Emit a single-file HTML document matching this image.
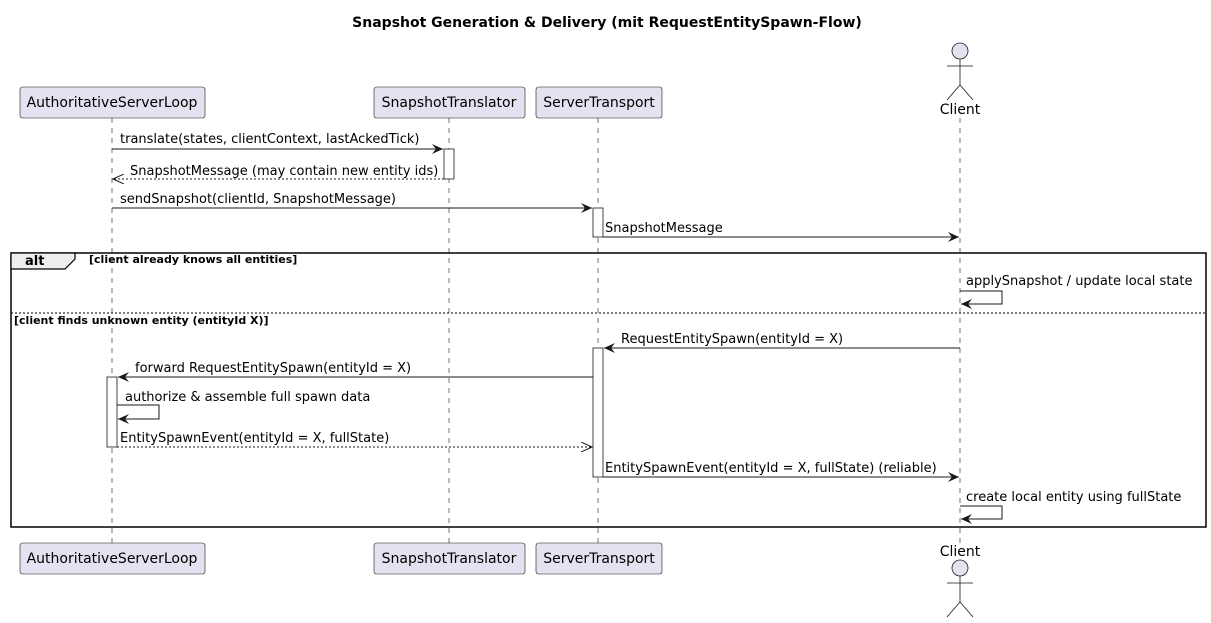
<!DOCTYPE html>
<html><head><meta charset="utf-8"><style>
html,body{margin:0;padding:0;background:#fff;}
svg{display:block;font-family:"DejaVu Sans","Liberation Sans",sans-serif;}
</style></head><body>
<svg width="1211" height="623" viewBox="0 0 1211 623" xmlns="http://www.w3.org/2000/svg">
<defs>
<marker id="a" markerWidth="12" markerHeight="10" refX="11" refY="5" orient="auto" markerUnits="userSpaceOnUse"><path d="M0,0 L11,5 L0,10 L4,5 Z" fill="#181818"/></marker>
<marker id="o" markerWidth="12" markerHeight="10" refX="11" refY="5" orient="auto" markerUnits="userSpaceOnUse"><path d="M0,0 L11,5 L0,10" fill="none" stroke="#181818" stroke-width="1"/></marker>
</defs>
<text x="607" y="27" text-anchor="middle" font-size="14" font-weight="bold">Snapshot Generation &amp; Delivery (mit RequestEntitySpawn-Flow)</text>
<g stroke="#181818" stroke-width="0.6" stroke-dasharray="5,5">
<line x1="112" y1="118" x2="112" y2="543"/>
<line x1="449" y1="118" x2="449" y2="543"/>
<line x1="598" y1="118" x2="598" y2="543"/>
<line x1="960" y1="118" x2="960" y2="543"/>
</g>
<g fill="#E2E2F0" stroke="#181818" stroke-width="0.6">
<rect x="20" y="87" width="185" height="31" rx="2.5"/>
<rect x="374" y="87" width="151" height="31" rx="2.5"/>
<rect x="536" y="87" width="126" height="31" rx="2.5"/>
<rect x="20" y="543" width="185" height="31" rx="2.5"/>
<rect x="374" y="543" width="151" height="31" rx="2.5"/>
<rect x="536" y="543" width="126" height="31" rx="2.5"/>
</g>
<g font-size="14" fill="#000" text-anchor="middle">
<text x="112" y="107">AuthoritativeServerLoop</text>
<text x="449" y="107">SnapshotTranslator</text>
<text x="599" y="107">ServerTransport</text>
<text x="112" y="563">AuthoritativeServerLoop</text>
<text x="449" y="563">SnapshotTranslator</text>
<text x="599" y="563">ServerTransport</text>
<text x="960" y="114">Client</text>
<text x="960" y="556">Client</text>
</g>
<g stroke="#181818" stroke-width="0.8" fill="none">
<circle cx="960" cy="51" r="8" fill="#E2E2F0"/>
<path d="M960,59 V85 M947,66 H973 M947,100 L960,85 L973,100"/>
<circle cx="960" cy="568" r="8" fill="#E2E2F0"/>
<path d="M960,576 V602 M947,583 H973 M947,617 L960,602 L973,617"/>
</g>
<g fill="#fff" stroke="#181818" stroke-width="0.8">
<rect x="444" y="149" width="10" height="30"/>
<rect x="593" y="208" width="10" height="29"/>
<rect x="593" y="348" width="10" height="129"/>
<rect x="107" y="377" width="10" height="70"/>
</g>
<rect x="11" y="253" width="1195" height="274" fill="none" stroke="#000" stroke-width="1.5"/>
<path d="M11,253 H75 V259 L65,269 H11 Z" fill="#EEEEEE" stroke="#000" stroke-width="1.2"/>
<line x1="11" y1="313" x2="1206" y2="313" stroke="#000" stroke-width="1" stroke-dasharray="2,2"/>
<g font-size="11" font-weight="bold">
<text x="25" y="265" font-size="13">alt</text>
<text x="89" y="263">[client already knows all entities]</text>
<text x="14" y="324">[client finds unknown entity (entityId X)]</text>
</g>
<g stroke="#181818" stroke-width="1" fill="none">
<line x1="112" y1="149" x2="443" y2="149" marker-end="url(#a)"/>
<line x1="444" y1="179" x2="113" y2="179" stroke-dasharray="2,2" marker-end="url(#o)"/>
<line x1="112" y1="208" x2="592" y2="208" marker-end="url(#a)"/>
<line x1="603" y1="237" x2="959" y2="237" marker-end="url(#a)"/>
<polyline points="960,291 1002,291 1002,304 961,304" marker-end="url(#a)"/>
<line x1="960" y1="348" x2="604" y2="348" marker-end="url(#a)"/>
<line x1="593" y1="377" x2="118" y2="377" marker-end="url(#a)"/>
<polyline points="117,405 159,405 159,419 118,419" marker-end="url(#a)"/>
<line x1="117" y1="447" x2="592" y2="447" stroke-dasharray="2,2" marker-end="url(#o)"/>
<line x1="603" y1="477" x2="959" y2="477" marker-end="url(#a)"/>
<polyline points="960,506 1002,506 1002,519 961,519" marker-end="url(#a)"/>
</g>
<g font-size="13" fill="#000">
<text x="120" y="143">translate(states, clientContext, lastAckedTick)</text>
<text x="130" y="175">SnapshotMessage (may contain new entity ids)</text>
<text x="120" y="203">sendSnapshot(clientId, SnapshotMessage)</text>
<text x="605" y="232">SnapshotMessage</text>
<text x="966" y="285">applySnapshot / update local state</text>
<text x="621" y="343">RequestEntitySpawn(entityId = X)</text>
<text x="135" y="372">forward RequestEntitySpawn(entityId = X)</text>
<text x="125" y="401">authorize &amp; assemble full spawn data</text>
<text x="120" y="442">EntitySpawnEvent(entityId = X, fullState)</text>
<text x="605" y="472">EntitySpawnEvent(entityId = X, fullState) (reliable)</text>
<text x="966" y="501">create local entity using fullState</text>
</g>
</svg>
</body></html>
